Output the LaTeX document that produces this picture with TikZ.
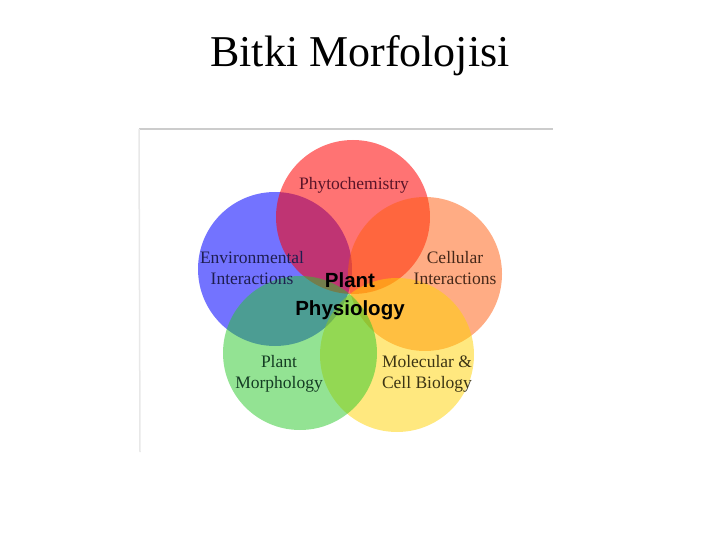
\documentclass[tikz,border=0pt]{standalone}
\usepackage{fontspec}
\setmainfont{Liberation Serif}
\newfontfamily\boldsans{Liberation Sans}
\begin{document}
\begin{tikzpicture}[x=1pt,y=-1pt,
  petal/.style={circle,minimum size=154pt,inner sep=0pt,fill opacity=#1},
  lbl/.style={font=\fontsize{17.5}{21.5}\selectfont,align=center,text opacity=1},
  center/.style={font=\boldsans\bfseries\fontsize{20.5}{30}\selectfont,align=center}]
\useasboundingbox (0,0) rectangle (720,540);
\node[anchor=base,font=\fontsize{44}{50}\selectfont] (title) at (360,67) {Bitki Morfolojisi};
% frame lines of the embedded picture
\coordinate (tl) at (139,129);
\coordinate (tr) at (553,129);
\coordinate (bl) at (140,452);
\draw[line width=2pt,color=black!20] (tl) -- (tr);
\draw[line width=1.5pt,color=black!9] (tl) -- (bl);
% circles
\node[petal=0.55,fill={rgb,255:red,0;green,0;blue,255}] (blue) at (275,269) {};
\node[petal=0.55,fill={rgb,255:red,255;green,0;blue,0}] (red) at (353,217) {};
\node[petal=0.5,fill={rgb,255:red,255;green,90;blue,10}] (orange) at (425,274) {};
\node[petal=0.5,fill={rgb,255:red,255;green,210;blue,0}] (yellow) at (397,355) {};
\node[petal=0.5,fill={rgb,255:red,40;green,200;blue,40}] (green) at (300,353) {};
% labels
\node[lbl,text={rgb,255:red,90;green,20;blue,40}] (phyto) at (354,185) {Phytochemistry};
\node[lbl,text={rgb,255:red,30;green,30;blue,80}] (env) at (252,268) {Environmental\\Interactions};
\node[lbl,text={rgb,255:red,70;green,40;blue,25}] (cell) at (455,268) {Cellular\\Interactions};
\node[lbl,text={rgb,255:red,20;green,60;blue,35}] (morph) at (279,374) {Plant\\Morphology};
\node[lbl,text={rgb,255:red,60;green,52;blue,20}] (mol) at (427,374) {Molecular \&\\Cell Biology};
\node[center] (plant) at (350,280) {Plant};
\node[center] (physio) at (350,310) {Physiology};
\end{tikzpicture}
\end{document}
